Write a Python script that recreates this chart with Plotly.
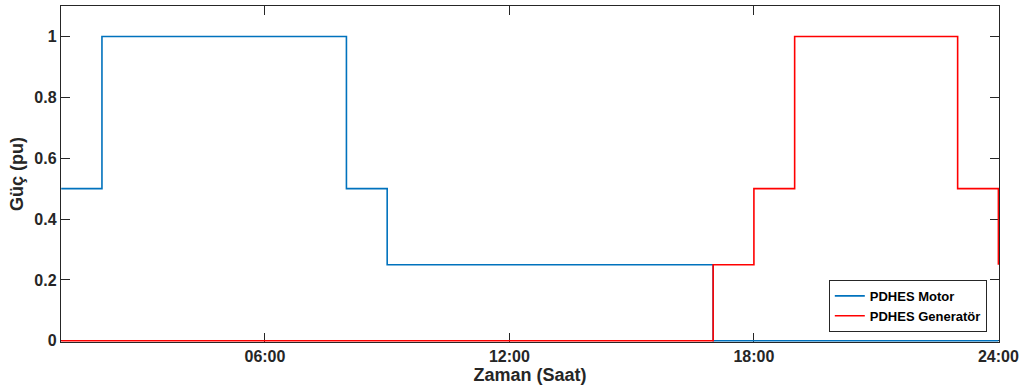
import plotly.graph_objects as go

hours = list(range(1, 25))
motor = [0.5, 1, 1, 1, 1, 1, 1, 0.5, 0.25, 0.25, 0.25, 0.25, 0.25, 0.25, 0.25, 0.25,
         0, 0, 0, 0, 0, 0, 0, 0]
generator = [0, 0, 0, 0, 0, 0, 0, 0, 0, 0, 0, 0, 0, 0, 0, 0,
             0.25, 0.5, 1, 1, 1, 1, 0.5, 0.25]
x_tickvals = [6, 12, 18, 24]
x_ticktext = ["06:00", "12:00", "18:00", "24:00"]
y_tickvals = [0, 0.2, 0.4, 0.6, 0.8, 1]
y_ticktext = ["0", "0.2", "0.4", "0.6", "0.8", "1"]

axis_color = "#262626"
font_family = "Liberation Sans, Arial, sans-serif"

fig = go.Figure()
fig.add_trace(go.Scatter(x=hours, y=motor, mode="lines", line_shape="hv",
                         name="PDHES Motor", line=dict(color="#0072BD", width=1.6)))
fig.add_trace(go.Scatter(x=hours, y=generator, mode="lines", line_shape="hv",
                         name="PDHES Generatör", line=dict(color="#FF0000", width=1.6)))

axis_common = dict(showline=True, linecolor=axis_color, linewidth=1.4, mirror="ticks",
                   ticks="inside", ticklen=9, tickwidth=1.4, tickcolor=axis_color,
                   showgrid=False, zeroline=False, automargin=False, layer="below traces",
                   tickfont=dict(family=font_family, size=16, color=axis_color, weight="bold"))

fig.update_xaxes(range=[0.995, 24.015], tickvals=x_tickvals, ticktext=x_ticktext,
                 title=dict(text="<b>Zaman (Saat)</b>", standoff=2,
                            font=dict(family=font_family, size=18, color=axis_color)),
                 **axis_common)
fig.update_yaxes(range=[-0.004, 1.1], tickvals=y_tickvals, ticktext=y_ticktext,
                 title=dict(text="<b>Güç (pu)</b>", standoff=6,
                            font=dict(family=font_family, size=18, color=axis_color)),
                 **axis_common)

fig.update_layout(
    width=1023, height=392,
    margin=dict(l=61, r=24, t=6, b=50),
    plot_bgcolor="white", paper_bgcolor="white",
    showlegend=True,
    legend=dict(x=0.987, y=0.03, xanchor="right", yanchor="bottom",
                bgcolor="white", bordercolor=axis_color, borderwidth=1,
                font=dict(family=font_family, size=13, color="black", weight="bold"),
                tracegroupgap=0, itemwidth=30),
)

fig.write_html("out.html", config={"displayModeBar": False},
               post_script="document.body.style.margin='0px';")
